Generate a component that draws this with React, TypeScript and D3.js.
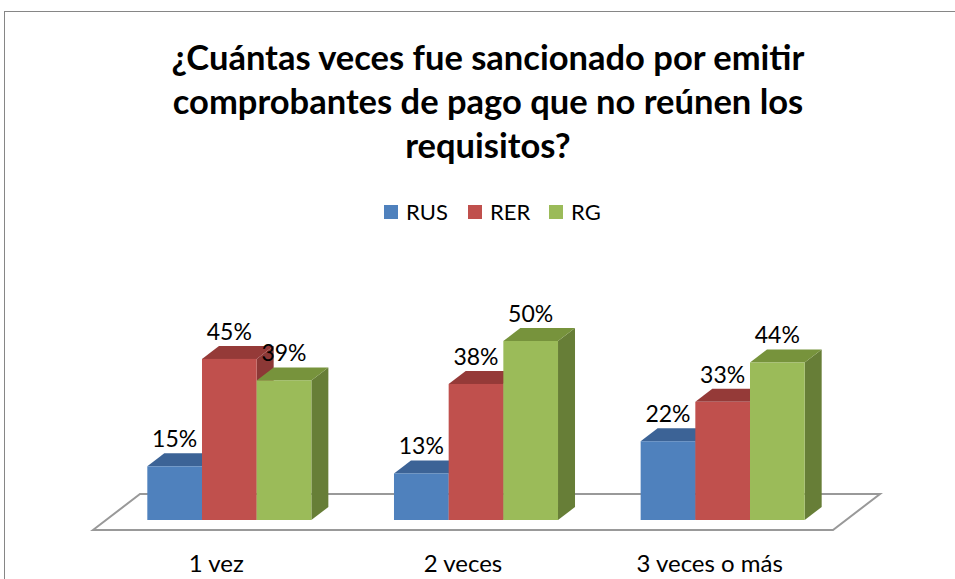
import React from "react";
import * as d3 from "d3";

const categories = ["1 vez", "2 veces", "3 veces o más"];
const seriesNames = ["RUS", "RER", "RG"];
const rusValues = [0.15, 0.13, 0.22];
const rerValues = [0.45, 0.38, 0.33];
const rgValues = [0.39, 0.5, 0.44];
const titleLines = [
  "¿Cuántas veces fue sancionado por emitir",
  "comprobantes de pago que no reúnen los",
  "requisitos?",
];

const W = 955;
const H = 579;
const FONT = "Lato, 'Open Sans', sans-serif";

const colors = [
  { front: "#4F81BD", side: "#385D8A", top: "#3C6396" },
  { front: "#C0504D", side: "#8C3836", top: "#953A38" },
  { front: "#9BBB59", side: "#677E37", top: "#77933C" },
];

export default function App() {
  const seriesValues = [rusValues, rerValues, rgValues];
  const baseY = 520;
  const y = d3.scaleLinear().domain([0, 0.5]).range([baseY, 341]);
  const x0 = d3
    .scaleBand<string>()
    .domain(categories)
    .range([106, 846])
    .paddingInner(0.335)
    .paddingOuter(0.1675);
  const x1 = d3
    .scaleBand<string>()
    .domain(seriesNames)
    .range([0, x0.bandwidth()])
    .padding(0);
  const dx = 17;
  const dy = -13;
  // floor
  const floorFrontY = 530;
  const floorBackY = 494;
  const fdx = 47;
  const floorShift = 13; // offset of bar line from floor front
  const fl = x0.range()[0] - floorShift;
  const fr = x0.range()[1] - floorShift;
  const floorPts = [
    [fl, floorFrontY],
    [fl + fdx, floorBackY],
    [fr + fdx, floorBackY],
    [fr, floorFrontY],
  ];
  const line = d3.line();

  const bars: JSX.Element[] = [];
  const labels: JSX.Element[] = [];
  categories.forEach((c, ci) => {
    seriesNames.forEach((s, si) => {
      const v = seriesValues[si][ci];
      const xl = (x0(c) as number) + (x1(s) as number);
      const w = x1.bandwidth();
      const yt = y(v);
      const col = colors[si];
      bars.push(
        <g key={`b${ci}-${si}`}>
          <path
            d={line([
              [xl + w, yt],
              [xl + w + dx, yt + dy],
              [xl + w + dx, baseY + dy],
              [xl + w, baseY],
            ]) + "Z"}
            fill={col.side}
          />
          <path
            d={line([
              [xl, yt],
              [xl + dx, yt + dy],
              [xl + w + dx, yt + dy],
              [xl + w, yt],
            ]) + "Z"}
            fill={col.top}
          />
          <rect x={xl} y={yt} width={w} height={baseY - yt} fill={col.front} />
        </g>
      );
      labels.push(
        <text
          key={`l${ci}-${si}`}
          x={xl + w / 2}
          y={yt + dy - 6}
          textAnchor="middle"
          fontSize={23}
          fontFamily={FONT}
          fill="#000"
        >
          {Math.round(v * 100) + "%"}
        </text>
      );
    });
  });

  const legendX = [384, 468, 549];
  return (
    <svg
      width={W}
      height={H}
      style={{ position: "absolute", left: 0, top: 0, background: "#fff" }}
    >
      <rect x={4.5} y={11.5} width={W + 10} height={H + 10} fill="#fff" stroke="#868686" strokeWidth={1} />
      {titleLines.map((t, i) => (
        <text
          key={t}
          x={488}
          y={70 + i * 44}
          textAnchor="middle"
          fontSize={34.5}
          fontWeight="bold"
          fontFamily={FONT}
          fill="#000"
        >
          {t}
        </text>
      ))}
      {seriesNames.map((s, i) => (
        <g key={s}>
          <rect x={legendX[i]} y={205} width={14} height={14} fill={colors[i].front} />
          <text x={legendX[i] + 22} y={220} fontSize={22} fontFamily={FONT} fill="#000">
            {s}
          </text>
        </g>
      ))}
      <path d={line(floorPts as [number, number][]) + "Z"} fill="#fff" stroke="#999" strokeWidth={2} />
      {bars}
      {labels}
      {categories.map((c) => (
        <text
          key={c}
          x={(x0(c) as number) + x0.bandwidth() / 2 - floorShift}
          y={572}
          textAnchor="middle"
          fontSize={24}
          fontFamily={FONT}
          fill="#000"
        >
          {c}
        </text>
      ))}
    </svg>
  );
}
